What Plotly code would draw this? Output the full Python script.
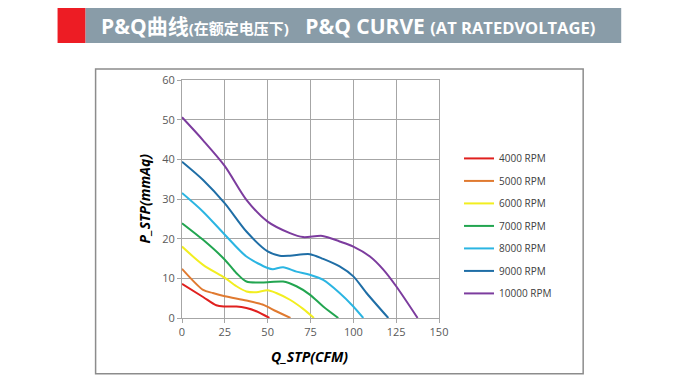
import plotly.graph_objects as go

# ---- data ----
series_names = ["4000 RPM", "5000 RPM", "6000 RPM", "7000 RPM", "8000 RPM", "9000 RPM", "10000 RPM"]
series_colors = ["#E0201E", "#E07A30", "#F2EE20", "#22A550", "#2BB5E2", "#1F6EA6", "#7C3C9E"]

q_4000 = [0, 12.3, 20, 25, 31.8, 37.6, 43.4, 51]
p_4000 = [8.6, 5.3, 3.2, 2.9, 2.9, 2.5, 1.7, 0]

q_5000 = [0, 12.3, 18, 25, 37.6, 47, 55, 63.3]
p_5000 = [12.4, 7.1, 6.3, 5.5, 4.4, 3.4, 1.7, 0]

q_6000 = [0, 12.3, 25, 31.8, 37.6, 43.4, 50, 55, 63, 70.7, 77]
p_6000 = [18, 13.4, 10.1, 8.0, 6.7, 6.5, 7.0, 6.3, 4.6, 2.3, 0]

q_7000 = [0, 12.3, 25, 31.8, 37.6, 50, 59, 66.8, 74.6, 82.4, 91.2]
p_7000 = [23.9, 19.7, 14.7, 11.3, 9.2, 9.0, 9.2, 8.0, 5.9, 2.9, 0]

q_8000 = [0, 12.3, 25, 37.6, 50, 53, 59, 66.8, 74.6, 82.4, 92, 100, 105.8]
p_8000 = [31.5, 26.8, 21.0, 15.5, 12.6, 12.3, 12.8, 11.7, 10.9, 9.6, 6.3, 2.9, 0]

q_9000 = [0, 12.3, 25, 37.6, 50, 57, 63, 74.6, 82.4, 92, 100, 107.7, 120.4]
p_9000 = [39.4, 34.8, 28.9, 21.8, 16.8, 15.7, 15.7, 16.1, 14.9, 13.0, 10.5, 6.3, 0]

q_10000 = [0, 12.3, 25, 37.6, 50, 63, 70.7, 82, 92, 100, 109.7, 117.5, 125, 137.5]
p_10000 = [50.6, 44.8, 38.3, 29.8, 24.3, 21.4, 20.4, 20.7, 19.3, 18.0, 15.5, 12.2, 8.0, 0]

q_series = [q_4000, q_5000, q_6000, q_7000, q_8000, q_9000, q_10000]
p_series = [p_4000, p_5000, p_6000, p_7000, p_8000, p_9000, p_10000]

x_ticks = [0, 25, 50, 75, 100, 125, 150]
y_ticks = [0, 10, 20, 30, 40, 50, 60]

header_cn = "P&Q曲线"
header_cn_sub = "(在额定电压下)"
header_en = "P&Q CURVE"
header_en_sub = "(AT RATEDVOLTAGE)"

# ---- layout geometry (pixels) ----
W, H = 680, 380
PL, PR, PT, PB = 182.3, 439.0, 80.0, 318.3


def px(x):
    return (x - PL) / (PR - PL)


def py(y):
    return (PB - y) / (PB - PT)


fig = go.Figure()
for name, col, q, p in zip(series_names, series_colors, q_series, p_series):
    fig.add_trace(go.Scatter(
        x=q, y=p, name=name, mode="lines",
        line=dict(color=col, width=2, shape="spline", smoothing=0.8),
        legendgroup=name,
    ))

tick_font = dict(family="Open Sans, Noto Sans, sans-serif", size=11, color="#595959")

fig.update_xaxes(
    range=[0, 150], tickvals=x_ticks, ticktext=[str(v) for v in x_ticks],
    showgrid=True, gridcolor="#A6A6A6", gridwidth=1,
    showline=True, linecolor="#A6A6A6", mirror=True,
    ticks="outside", ticklen=4, tickcolor="#A6A6A6",
    tickfont=tick_font, zeroline=False,
)
fig.update_yaxes(
    range=[0, 60], tickvals=y_ticks, ticktext=[str(v) for v in y_ticks],
    showgrid=True, gridcolor="#A6A6A6", gridwidth=1,
    showline=True, linecolor="#A6A6A6", mirror=True,
    ticks="outside", ticklen=4, tickcolor="#A6A6A6",
    tickfont=tick_font, zeroline=False,
)

shapes = [
    # chart outer frame
    dict(type="rect", xref="paper", yref="paper",
         x0=px(96), x1=px(583), y0=py(374), y1=py(69),
         line=dict(color="#8C8C8C", width=1.5), fillcolor="rgba(0,0,0,0)", layer="below"),
    # header red block
    dict(type="rect", xref="paper", yref="paper",
         x0=px(58), x1=px(86), y0=py(43), y1=py(8),
         line=dict(width=0), fillcolor="#ED1C24"),
    # header gray bar
    dict(type="rect", xref="paper", yref="paper",
         x0=px(86), x1=px(621), y0=py(43), y1=py(8),
         line=dict(width=0), fillcolor="#899CA8"),
]

hdr_font = "Open Sans, Noto Sans CJK SC, sans-serif"
annotations = [
    dict(xref="paper", yref="paper", x=px(99), y=py(25.5), xanchor="left", yanchor="middle",
         showarrow=False,
         text=(f"<b><span style='font-size:21px'>{header_cn}</span>"
               f"<span style='font-size:15px'>{header_cn_sub}</span>"
               f"<span style='font-size:21px'>&nbsp;&nbsp;&nbsp;{header_en} </span>"
               f"<span style='font-size:16.5px'>{header_en_sub}</span></b>"),
         font=dict(family=hdr_font, size=21, color="white")),
    dict(xref="paper", yref="paper", x=px(310), y=py(357), xanchor="center", yanchor="middle",
         showarrow=False, text="<b><i>Q_STP(CFM)</i></b>",
         font=dict(family="Open Sans, DejaVu Sans, sans-serif", size=14, color="#000000")),
    dict(xref="paper", yref="paper", x=px(145), y=py(199), xanchor="center", yanchor="middle",
         showarrow=False, text="<b><i>P_STP(mmAq)</i></b>", textangle=-90,
         font=dict(family="Open Sans, DejaVu Sans, sans-serif", size=14, color="#000000")),
]

fig.update_layout(
    width=W, height=H,
    margin=dict(l=PL, r=W - PR, t=PT, b=H - PB, autoexpand=False),
    paper_bgcolor="white", plot_bgcolor="white",
    showlegend=True,
    legend=dict(
        x=px(459), y=py(144), xanchor="left", yanchor="top",
        font=dict(family="Open Sans, Noto Sans, sans-serif", size=10, color="#404040"),
        bgcolor="rgba(0,0,0,0)", tracegroupgap=3.5, itemwidth=30,
    ),
    shapes=shapes,
    annotations=annotations,
)

fig.write_html("out.html", config={"displayModeBar": False},
               post_script="document.body.style.margin='0';")
